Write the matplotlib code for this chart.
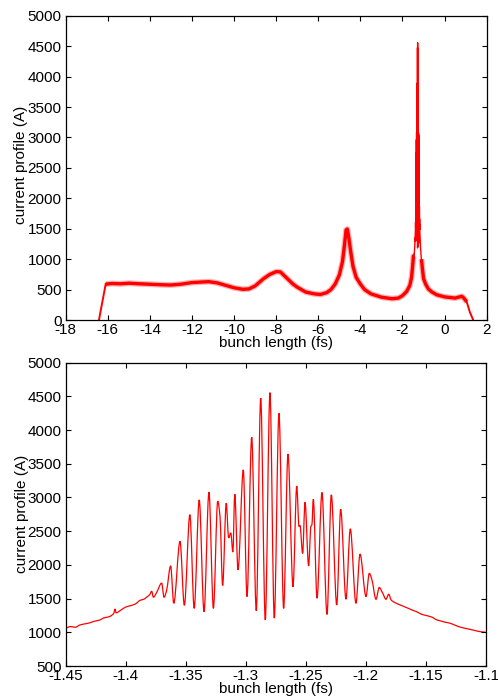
import numpy as np
import matplotlib
matplotlib.use("Agg")
import matplotlib.pyplot as plt
from matplotlib.path import Path
from matplotlib.patches import PathPatch

plt.rcParams['font.family'] = ['Liberation Sans', 'DejaVu Sans']
plt.rcParams['axes.unicode_minus'] = False

# Broad current profile (band centre), left of the spike region
coarse_left_x = [-16.42, -16.10, -15.80, -15.40, -15.00, -14.50, -14.00, -13.50, -13.00,
                 -12.50, -12.00, -11.50, -11.20, -10.80, -10.40, -10.00, -9.60, -9.30,
                 -9.00, -8.60, -8.30, -8.00, -7.80, -7.50, -7.20, -7.00, -6.60, -6.20,
                 -5.90, -5.60, -5.40, -5.20, -5.00, -4.85, -4.75, -4.68, -4.62, -4.55,
                 -4.45, -4.35, -4.20, -4.00, -3.80, -3.50, -3.00, -2.50, -2.20, -2.00,
                 -1.80, -1.65, -1.57, -1.52, -1.48, -1.45]
coarse_left_y = [0, 590, 600, 595, 605, 595, 588, 580, 575,
                 590, 615, 625, 630, 610, 570, 530, 505, 510,
                 560, 680, 750, 795, 790, 690, 590, 540, 460, 430,
                 420, 450, 500, 590, 740, 960, 1250, 1480, 1495, 1350,
                 1100, 880, 700, 590, 500, 430, 375, 350, 360, 400,
                 470, 570, 700, 880, 1050, 1060]

# Broad current profile, right of the spike region
coarse_right_x = [-1.10, -1.05, -1.00, -0.90, -0.77, -0.60, -0.38, 0.00, 0.26, 0.50,
                  0.81, 0.89, 1.05, 1.20, 1.36]
coarse_right_y = [1000, 830, 680, 590, 510, 460, 415, 380, 370, 360,
                  390, 370, 300, 130, 0]

# Fine structure of the main spike
spike_x = [-1.4500, -1.4460, -1.4420, -1.4380, -1.4340, -1.4300, -1.4260, -1.4220, -1.4180,
           -1.4140, -1.4100, -1.4090, -1.4080, -1.4040, -1.4000, -1.3960, -1.3920, -1.3880,
           -1.3850, -1.3820, -1.3800, -1.3784, -1.3770, -1.3740, -1.3701, -1.3681, -1.3660,
           -1.3626, -1.3600, -1.3548, -1.3512, -1.3466, -1.3430, -1.3388, -1.3348, -1.3307,
           -1.3270, -1.3234, -1.3215, -1.3193, -1.3163, -1.3143, -1.3125, -1.3108, -1.3092,
           -1.3065, -1.3021, -1.2990, -1.2951, -1.2913, -1.2876, -1.2838, -1.2799, -1.2763,
           -1.2724, -1.2685, -1.2649, -1.2607, -1.2576, -1.2557, -1.2549, -1.2527, -1.2507,
           -1.2477, -1.2458, -1.2450, -1.2438, -1.2407, -1.2366, -1.2324, -1.2288, -1.2243,
           -1.2210, -1.2166, -1.2130, -1.2083, -1.2049, -1.1999, -1.1972, -1.1950, -1.1916,
           -1.1889, -1.1860, -1.1833, -1.1810, -1.1790, -1.1758, -1.1720, -1.1680, -1.1640,
           -1.1600, -1.1577, -1.1540, -1.1500, -1.1450, -1.1411, -1.1380, -1.1340, -1.1300,
           -1.1244, -1.1200, -1.1150, -1.1100, -1.1050, -1.1000]
spike_y = [1060, 1085, 1075, 1110, 1125, 1140, 1165, 1180, 1215,
           1230, 1280, 1345, 1290, 1330, 1375, 1395, 1420, 1475,
           1490, 1530, 1560, 1610, 1520, 1600, 1730, 1520, 1620,
           1985, 1430, 2350, 1400, 2745, 1355, 2965, 1305, 3080,
           1355, 2945, 2720, 1695, 2915, 2400, 2475, 2190, 3050,
           1925, 3410, 1530, 3895, 1320, 4475, 1185, 4556, 1210,
           4250, 1355, 3645, 1675, 3170, 2570, 2585, 2170, 2930,
           1985, 2575, 2590, 2975, 1505, 3075, 1265, 3040, 1405,
           2825, 1490, 2535, 1430, 2160, 1530, 1875, 1780, 1490,
           1665, 1580, 1490, 1565, 1480, 1440, 1410, 1380, 1350,
           1320, 1305, 1270, 1250, 1225, 1185, 1170, 1150, 1135,
           1095, 1070, 1050, 1030, 1010, 1000]

top_xticks = list(range(-18, 3, 2))
top_yticks = list(range(0, 5001, 500))
bot_xticks = [-1.45, -1.4, -1.35, -1.3, -1.25, -1.2, -1.15, -1.1]
bot_xlabels = ["-1.45", "-1.4", "-1.35", "-1.3", "-1.25", "-1.2", "-1.15", "-1.1"]
bot_yticks = list(range(500, 5001, 500))

RED = "#ff0000"
FS = 11


def smooth_line(ax, x, y, **kw):
    """Draw a monotone cubic Bezier curve through the given samples."""
    x = np.asarray(x, float)
    y = np.asarray(y, float)
    h = np.diff(x)
    d = np.diff(y) / h
    m = np.zeros_like(y)
    m[0], m[-1] = d[0], d[-1]
    for k in range(1, len(y) - 1):
        if d[k - 1] * d[k] > 0:
            m[k] = 2.0 / (1.0 / d[k - 1] + 1.0 / d[k])
    verts = [(x[0], y[0])]
    codes = [Path.MOVETO]
    for k in range(len(h)):
        verts += [(x[k] + h[k] / 3, y[k] + m[k] * h[k] / 3),
                  (x[k + 1] - h[k] / 3, y[k + 1] - m[k + 1] * h[k] / 3),
                  (x[k + 1], y[k + 1])]
        codes += [Path.CURVE4] * 3
    ax.add_patch(PathPatch(Path(verts, codes), fill=False, **kw))


fig = plt.figure(figsize=(4.98, 6.96), dpi=100)
ax1 = fig.add_axes([0.1319, 0.5402, 0.8454, 0.4372])
ax2 = fig.add_axes([0.1319, 0.0431, 0.8440, 0.4358])


def style(ax):
    ax.tick_params(direction="in", top=True, right=True, length=3.5, width=0.8,
                   labelsize=FS, pad=3)
    ax.tick_params(axis="x", pad=2)
    for s in ax.spines.values():
        s.set_linewidth(0.9)


# full bunch: noisy band drawn as a thick line with a soft halo, thin edges
for lx, ly in [(coarse_left_x[1:], coarse_left_y[1:]), (coarse_right_x[:-2], coarse_right_y[:-2])]:
    ax1.plot(lx, ly, color=RED, lw=4.2, alpha=0.3, solid_capstyle="butt")
    ax1.plot(lx, ly, color=RED, lw=2.4, solid_capstyle="butt")
ax1.plot(coarse_left_x[:2], coarse_left_y[:2], color=RED, lw=1.4)
ax1.plot(coarse_right_x[-3:], coarse_right_y[-3:], color=RED, lw=1.4)
ax1.plot(spike_x, spike_y, color=RED, lw=1.0)
ax1.set_xlim(-18, 2)
ax1.set_ylim(0, 5000)
ax1.set_xticks(top_xticks)
ax1.set_xticklabels([str(v) for v in top_xticks])
ax1.set_yticks(top_yticks)
ax1.set_yticklabels([str(v) for v in top_yticks])
style(ax1)
ax1.set_xlabel("bunch length (fs)", fontsize=FS)
ax1.set_ylabel("current profile (A)", fontsize=FS)
ax1.xaxis.set_label_coords(0.5, -0.074)
ax1.yaxis.set_label_coords(-0.105, 0.51)
ax1.xaxis.label.set_va("center")
ax1.yaxis.label.set_va("center")

# zoom on the main spike
smooth_line(ax2, spike_x, spike_y, edgecolor=RED, lw=0.9)
ax2.set_xlim(-1.45, -1.1)
ax2.set_ylim(500, 5000)
ax2.set_xticks(bot_xticks)
ax2.set_xticklabels(bot_xlabels)
ax2.set_yticks(bot_yticks)
ax2.set_yticklabels([str(v) for v in bot_yticks])
style(ax2)
ax2.set_xlabel("bunch length (fs)", fontsize=FS)
ax2.set_ylabel("current profile (A)", fontsize=FS)
ax2.xaxis.set_label_coords(0.5, -0.077)
ax2.yaxis.set_label_coords(-0.105, 0.5)
ax2.xaxis.label.set_va("center")
ax2.yaxis.label.set_va("center")

fig.savefig("out.png", dpi=100)
